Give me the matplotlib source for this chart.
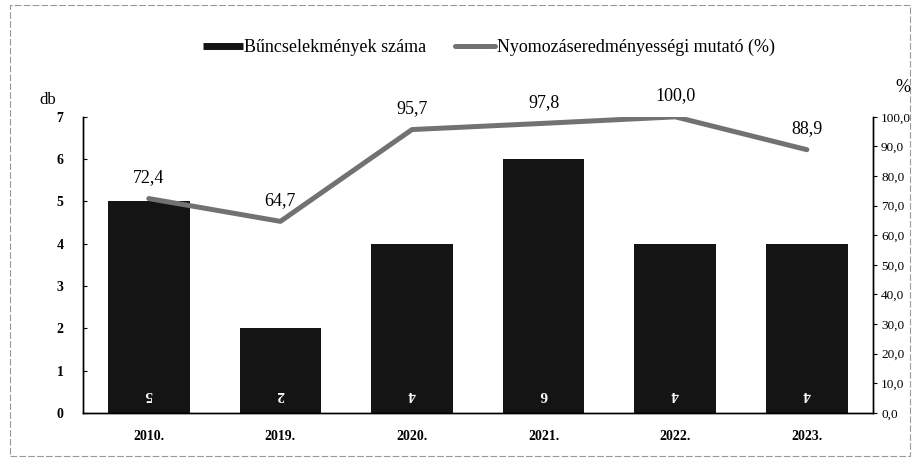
import numpy as np
import matplotlib.pyplot as plt
from matplotlib.patches import Rectangle
from matplotlib.lines import Line2D

plt.rcParams['font.family'] = ['Liberation Serif', 'DejaVu Serif']

years = ['2010.', '2019.', '2020.', '2021.', '2022.', '2023.']
crimes = [5, 2, 4, 6, 4, 4]
rate = [72.4, 64.7, 95.7, 97.8, 100.0, 88.9]

left_ticks = list(range(0, 8))
right_ticks = list(range(0, 101, 10))

fig = plt.figure(figsize=(9.14, 4.73), dpi=100)
ax = fig.add_axes([0.0908, 0.127, 0.864, 0.626])
ax2 = ax.twinx()

x = np.arange(len(years))
ax.bar(x, crimes, width=0.62, color='#141414', zorder=2)

# values inside bars, printed upside down like the source
for xi, v in zip(x, crimes):
    ax.annotate(str(v), (xi, 0), xytext=(0, 18), textcoords='offset pixels',
                ha='center', va='center', rotation=180, color='white',
                fontsize=11, fontweight='bold', zorder=3)

ax.set_xlim(-0.5, len(years) - 0.5)
ax.set_ylim(0, 7)
ax.set_yticks(left_ticks)
ax.set_yticklabels([str(t) for t in left_ticks], fontsize=10, fontweight='bold')
ax.set_xticks(x)
ax.set_xticklabels(years, fontsize=10, fontweight='bold')
ax.tick_params(axis='x', length=0, pad=12)
ax.tick_params(axis='y', direction='in', length=3, pad=14)

ax2.plot(x, rate, color='#727272', linewidth=3.6, solid_capstyle='round', zorder=4)
for xi, v in zip(x, rate):
    ax2.annotate(f'{v:.1f}'.replace('.', ','), (xi, v), xytext=(0, 21),
                 textcoords='offset pixels', ha='center', va='center', fontsize=13)
ax2.set_ylim(0, 100)
ax2.set_yticks(right_ticks)
ax2.set_yticklabels([f'{t:.1f}'.replace('.', ',') for t in right_ticks], fontsize=9.5)
ax2.tick_params(axis='y', direction='out', length=3, pad=3)

for a in (ax, ax2):
    a.spines['top'].set_visible(False)
    a.spines['left'].set_linewidth(1)
    a.spines['right'].set_linewidth(1)
    a.spines['bottom'].set_linewidth(1)

fig.text(0.052, 0.788, 'db', fontsize=12, ha='center', va='center')
fig.text(0.988, 0.814, '%', fontsize=13, ha='center', va='center')

handles = [Line2D([0], [0], color='#141414', linewidth=5, solid_capstyle='butt'),
           Line2D([0], [0], color='#727272', linewidth=3.6, solid_capstyle='round')]
fig.legend(handles, ['Bűncselekmények száma', 'Nyomozáseredményességi mutató (%)'],
           loc='center', bbox_to_anchor=(0.535, 0.90), ncol=2, frameon=False,
           fontsize=13, handlelength=2.2, handletextpad=0.1, columnspacing=1.6)

fig.patches.append(Rectangle((0.011, 0.035), 0.985, 0.955, transform=fig.transFigure,
                             fill=False, edgecolor='#999999', linewidth=0.8,
                             linestyle=(0, (6, 2))))

fig.savefig('out.png', dpi=100)
